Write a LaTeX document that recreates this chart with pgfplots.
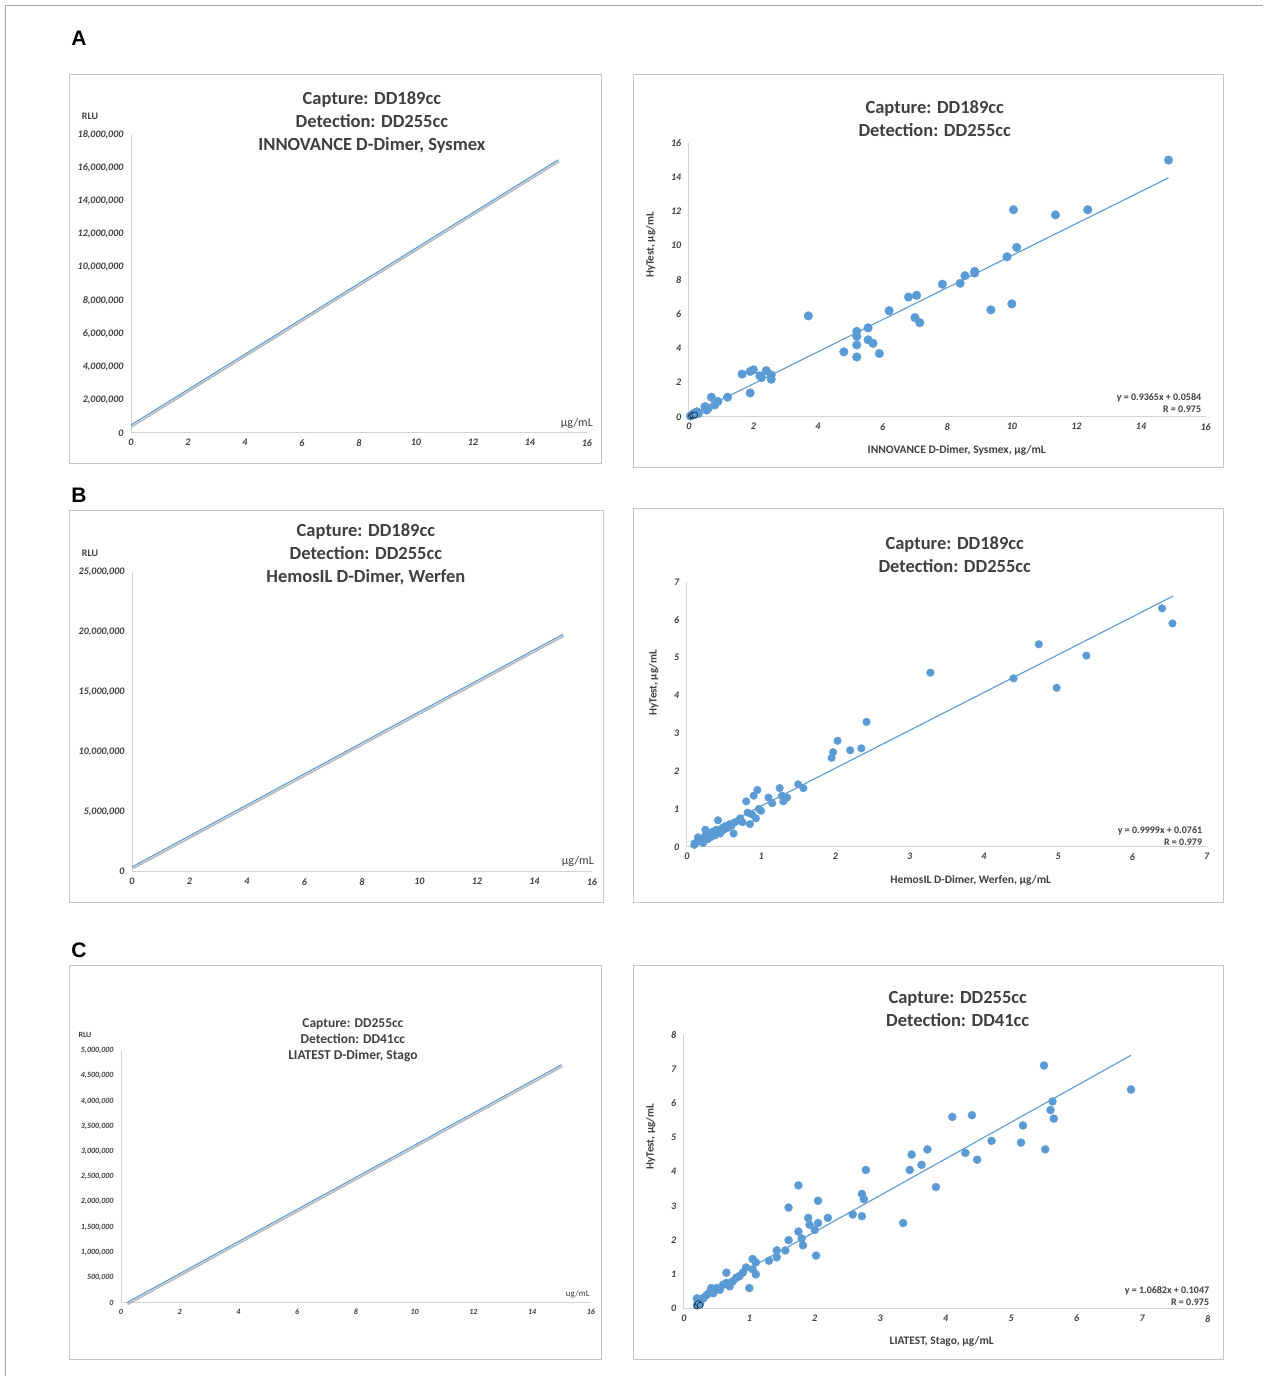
\documentclass[border=0pt]{standalone}
\usepackage{pgfplots}
\pgfplotsset{compat=1.18}
\usepackage{fontspec}
\setmainfont{Carlito}
\newfontfamily\hv{Liberation Sans}
\definecolor{xb}{HTML}{5B9BD5}
\definecolor{tx}{HTML}{404040}
\pgfplotsset{every axis/.append style={scale only axis, axis lines*=left, axis line style={draw=gray!35, line width=0.8pt},
 tick style={draw=none}, ticklabel style={font=\bfseries\itshape\fontsize{10}{10}\selectfont, text=tx},
 yticklabel style={xshift=-4pt}, xticklabel style={yshift=-3pt},
 /pgf/number format/assume math mode=true, clip=false, anchor=origin},
 left/.style={xmin=0,xmax=16,ymin=0,xtick={0,2,...,16},scaled y ticks=false,
 yticklabel style={/pgf/number format/.cd,fixed,1000 sep={,}}, ytick pos=left, xtick pos=left},
 sc/.style={only marks, mark=*, mark size=4.3pt, mark options={draw=xb, fill=xb}},
 fit/.style={xb, line width=1.1pt, no marks},
 shad/.style={gray!55, line width=1.6pt, no marks, shift={(0.8pt,-1.8pt)}}}
\begin{document}
\begin{tikzpicture}
\begin{scope}[x=1pt,y=-1pt]
\fill[white] (0,0) rectangle (1263,1376);
\draw[gray!70, line width=0.8pt] (5,1376) -- (5,5) -- (1263,5);
\foreach \a/\b/\c/\d in {69/74/602/464, 634/74/1224/468, 69/511/604/903, 634/509/1224/903, 69/966/602/1360, 634/966/1224/1360}
  \draw[gray!45, line width=0.8pt] (\a,\b) rectangle (\c,\d);
\node[font=\hv\bfseries\fontsize{21}{21}\selectfont] at (79,38) {A};
\node[font=\hv\bfseries\fontsize{21}{21}\selectfont] at (79,495) {B};
\node[font=\hv\bfseries\fontsize{21}{21}\selectfont] at (79,951) {C};
\node[font=\bfseries\fontsize{10}{10}\selectfont, text=tx] at (90,116) {RLU};
\node[font=\fontsize{12}{12}\selectfont, text=tx] at (577,423) {µg/mL};
\node[font=\bfseries\fontsize{18.5}{23}\selectfont, text=tx, align=center] at (372,123) {Capture: DD189cc\\Detection: DD255cc\\INNOVANCE D-Dimer, Sysmex};
\node[font=\bfseries\fontsize{10}{10}\selectfont, text=tx] at (90,553) {RLU};
\node[font=\fontsize{12}{12}\selectfont, text=tx] at (578,862) {µg/mL};
\node[font=\bfseries\fontsize{18.5}{23}\selectfont, text=tx, align=center] at (366,555) {Capture: DD189cc\\Detection: DD255cc\\HemosIL D-Dimer, Werfen};
\node[font=\bfseries\fontsize{8}{8}\selectfont, text=tx] at (85,1035) {RLU};
\node[font=\fontsize{9}{9}\selectfont, text=tx] at (578,1295) {ug/mL};
\node[font=\bfseries\fontsize{13.5}{16}\selectfont, text=tx, align=center] at (353,1041) {Capture: DD255cc\\Detection: DD41cc\\LIATEST D-Dimer, Stago};
\node[font=\bfseries\fontsize{11}{11}\selectfont, text=tx, rotate=90] at (651,245) {HyTest, µg/mL};
\node[font=\bfseries\fontsize{11.5}{11.5}\selectfont, text=tx] at (957,451) {INNOVANCE D-Dimer, Sysmex, µg/mL};
\node[font=\bfseries\fontsize{10}{12}\selectfont, text=tx, align=right, anchor=east] at (1205,403) {y = 0.9365x + 0.0584\\R = 0.975};
\node[font=\bfseries\fontsize{18.5}{23}\selectfont, text=tx, align=center] at (935,119) {Capture: DD189cc\\Detection: DD255cc};
\node[font=\bfseries\fontsize{11}{11}\selectfont, text=tx, rotate=90] at (654,683) {HyTest, µg/mL};
\node[font=\bfseries\fontsize{11.5}{11.5}\selectfont, text=tx] at (971,881) {HemosIL D-Dimer, Werfen, µg/mL};
\node[font=\bfseries\fontsize{10}{12}\selectfont, text=tx, align=right, anchor=east] at (1206,836) {y = 0.9999x + 0.0761\\R = 0.979};
\node[font=\bfseries\fontsize{18.5}{23}\selectfont, text=tx, align=center] at (955,555) {Capture: DD189cc\\Detection: DD255cc};
\node[font=\bfseries\fontsize{11}{11}\selectfont, text=tx, rotate=90] at (651,1137) {HyTest, µg/mL};
\node[font=\bfseries\fontsize{11.5}{11.5}\selectfont, text=tx] at (942,1342) {LIATEST, Stago, µg/mL};
\node[font=\bfseries\fontsize{10}{12}\selectfont, text=tx, align=right, anchor=east] at (1213,1296) {y = 1.0682x + 0.1047\\R = 0.975};
\node[font=\bfseries\fontsize{18.5}{23}\selectfont, text=tx, align=center] at (958,1009) {Capture: DD255cc\\Detection: DD41cc};
\end{scope}

% A left
\begin{axis}[left, at={(131pt,-433pt)}, width=456pt, height=298pt, ymax=18000000, ytick={0,2000000,...,18000000}]
\addplot[shad] coordinates {(0,480000) (15,16500000)};
\addplot[fit] coordinates {(0,480000) (15,16500000)};
\end{axis}

% B left
\begin{axis}[left, at={(132pt,-872pt)}, width=460pt, height=300pt, ymax=25000000, ytick={0,5000000,...,25000000}]
\addplot[shad] coordinates {(0,400000) (15,19800000)};
\addplot[fit] coordinates {(0,400000) (15,19800000)};
\end{axis}

% C left
\begin{axis}[left, at={(121pt,-1303pt)}, width=470pt, height=252pt, ymax=5000000, ytick={0,500000,...,5000000},
 ticklabel style={font=\bfseries\itshape\fontsize{8}{8}\selectfont}]
\addplot[shad] coordinates {(0.2,0) (15,4720000)};
\addplot[fit] coordinates {(0.2,0) (15,4720000)};
\end{axis}

% A right
\begin{axis}[at={(689pt,-417pt)}, width=517pt, height=274pt, xmin=0,xmax=16,ymin=0,ymax=16, xtick={0,2,...,16}, ytick={0,2,...,16}]
\addplot[fit] coordinates {(0,0.0584) (14.85,13.965)};
\addplot[sc] coordinates {(0.1,0.1)(0.15,0.2)(0.2,0.15)(0.25,0.3)(0.3,0.2)(0.05,0.05)(0.5,0.6)(0.55,0.4)(0.6,0.5)(0.7,1.15)(0.8,0.7)(0.9,0.9)(1.2,1.15)(1.65,2.5)(1.9,2.65)(2.0,2.75)(1.9,1.4)(2.2,2.4)(2.25,2.3)(2.4,2.7)(2.55,2.45)(2.55,2.2)(3.7,5.9)(4.8,3.8)(5.2,5.0)(5.2,4.7)(5.2,4.2)(5.2,3.5)(5.55,5.2)(5.55,4.5)(5.7,4.3)(5.9,3.7)(6.2,6.2)(6.8,7.0)(7.05,7.1)(7.0,5.8)(7.15,5.5)(7.85,7.75)(8.4,7.8)(8.55,8.25)(8.85,8.5)(8.85,8.4)(9.35,6.25)(9.85,9.35)(10.0,6.6)(10.05,12.1)(10.15,9.9)(11.35,11.8)(12.35,12.1)(14.85,15.0)};
\addplot[only marks, mark=*, mark size=3pt, mark options={draw=black, fill=xb}] coordinates {(0.08,0.05)(0.12,0.1)(0.18,0.12)};
\end{axis}

% B right
\begin{axis}[at={(687pt,-847pt)}, width=520pt, height=265pt, xmin=0,xmax=7,ymin=0,ymax=7, xtick={0,...,7}, ytick={0,...,7}]
\addplot[fit] coordinates {(0.05,0.126) (6.55,6.625)};
\addplot[sc, mark size=3.8pt] coordinates {(0.1,0.05)(0.12,0.1)(0.15,0.25)(0.18,0.15)(0.2,0.2)(0.22,0.1)(0.25,0.45)(0.25,0.3)(0.28,0.2)(0.3,0.35)(0.32,0.25)(0.35,0.4)(0.38,0.3)(0.4,0.45)(0.42,0.7)(0.45,0.35)(0.48,0.5)(0.5,0.45)(0.52,0.55)(0.55,0.5)(0.58,0.6)(0.6,0.55)(0.63,0.35)(0.65,0.65)(0.7,0.7)(0.72,0.75)(0.75,0.65)(0.8,1.2)(0.82,0.9)(0.85,0.6)(0.88,0.85)(0.9,1.35)(0.93,0.75)(0.95,1.5)(0.97,1.0)(1.0,0.95)(1.1,1.3)(1.15,1.15)(1.25,1.55)(1.28,1.35)(1.3,1.2)(1.35,1.3)(1.5,1.65)(1.57,1.55)(1.95,2.35)(1.97,2.5)(2.03,2.8)(2.2,2.55)(2.35,2.6)(2.42,3.3)(3.28,4.6)(4.4,4.45)(4.74,5.35)(4.98,4.2)(5.38,5.05)(6.4,6.3)(6.54,5.9)};
\end{axis}

% C right
\begin{axis}[at={(684pt,-1309pt)}, width=524pt, height=274pt, xmin=0,xmax=8,ymin=0,ymax=8, xtick={0,...,8}, ytick={0,...,8}]
\addplot[fit] coordinates {(0.2,0.318) (6.83,7.4)};
\addplot[sc, mark size=4pt] coordinates {(0.2,0.1)(0.22,0.2)(0.2,0.3)(0.25,0.15)(0.25,0.25)(0.3,0.3)(0.35,0.4)(0.4,0.5)(0.42,0.6)(0.45,0.45)(0.5,0.6)(0.55,0.55)(0.6,0.7)(0.65,1.05)(0.65,0.75)(0.7,0.65)(0.75,0.8)(0.8,0.9)(0.85,0.95)(0.9,1.05)(0.95,1.2)(1.0,0.6)(1.05,1.45)(1.1,1.35)(1.1,1.0)(1.05,1.15)(1.3,1.4)(1.42,1.7)(1.42,1.5)(1.55,1.7)(1.6,2.95)(1.6,2.0)(1.75,2.25)(1.75,3.6)(1.8,2.05)(1.82,1.85)(1.9,2.65)(1.92,2.45)(2.0,2.3)(2.02,1.55)(2.05,2.5)(2.05,3.15)(2.2,2.65)(2.58,2.75)(2.72,3.35)(2.72,2.7)(2.75,3.2)(2.78,4.05)(3.35,2.5)(3.45,4.05)(3.48,4.5)(3.63,4.2)(3.72,4.65)(3.85,3.55)(4.1,5.6)(4.3,4.55)(4.4,5.65)(4.48,4.35)(4.7,4.9)(5.15,4.85)(5.18,5.35)(5.5,7.1)(5.52,4.65)(5.6,5.8)(5.63,6.05)(5.65,5.55)(6.83,6.4)};
\addplot[only marks, mark=*, mark size=3pt, mark options={draw=black, fill=xb}] coordinates {(0.2,0.08)(0.22,0.15)(0.25,0.1)};
\end{axis}
\end{tikzpicture}
\end{document}
